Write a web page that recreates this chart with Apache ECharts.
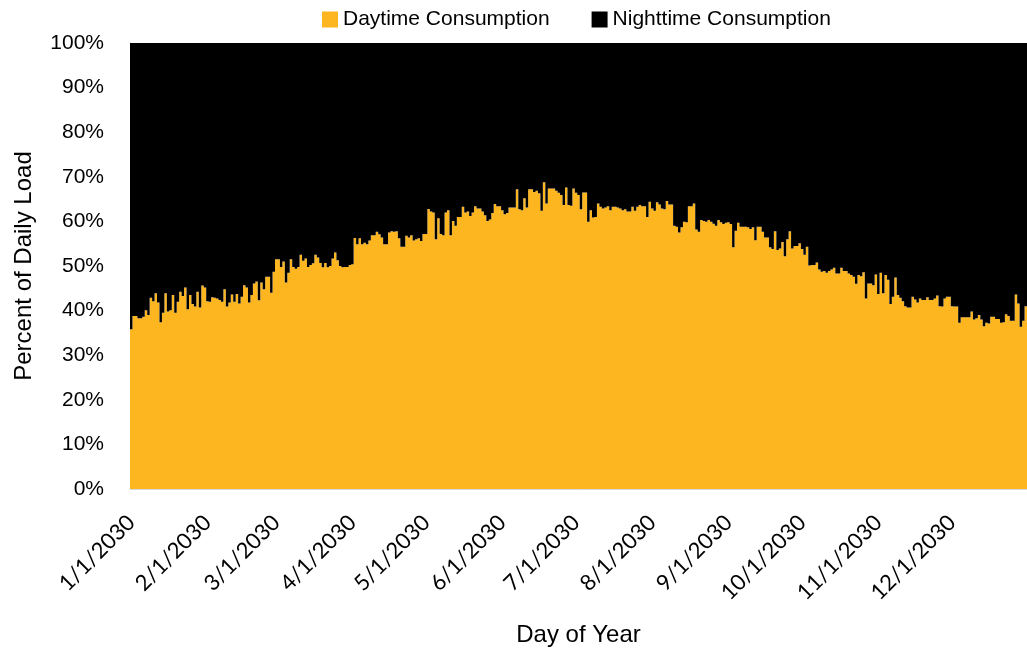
<!DOCTYPE html>
<html>
<head>
<meta charset="utf-8">
<script src="https://cdn.jsdelivr.net/npm/echarts@6/dist/echarts.min.js"></script>
<style>
  html, body { margin: 0; padding: 0; background: #ffffff; }
  #chart { width: 1027px; height: 654px; }
</style>
</head>
<body>
<div id="chart"></div>
<script>
// Daytime share of daily load (%) for each day of 2030, one array per month.
const jan = [35.8,38.8,38.8,38.3,38.3,38.6,40.1,39.0,42.9,42.1,43.9,41.8,37.4,39.5,43.9,39.8,40.1,43.5,39.5,42.0,44.2,43.3,45.2,40.3,43.5,41.5,40.9,44.2,40.7,45.6,45.2];
const feb = [42.1,42.0,43.0,42.9,42.7,42.4,42.0,44.8,40.9,41.8,43.6,42.0,43.7,41.6,43.1,45.7,45.2,41.8,43.5,46.1,46.5,42.3,46.3,44.8,47.6,47.6,44.0,48.7];
const mar = [51.5,51.5,49.8,51.0,46.3,48.5,51.5,49.8,49.4,49.8,52.5,51.2,51.7,49.8,50.2,50.6,52.5,51.9,50.7,49.7,50.7,49.7,50.0,51.7,53.0,51.3,50.0,49.7,49.8,49.8,50.2];
const apr = [50.4,56.3,54.9,56.2,54.9,55.2,54.9,55.7,56.9,56.9,57.7,57.1,56.4,54.9,54.9,57.5,57.8,57.7,57.8,56.2,54.3,54.3,56.8,56.4,56.9,55.7,56.0,56.2,55.6,57.2];
const may = [57.2,62.8,62.2,62.0,56.0,60.7,57.2,56.9,62.0,62.5,56.9,60.1,59.0,61.0,61.0,63.3,62.0,62.2,61.2,62.0,63.4,62.9,62.9,62.2,61.4,60.1,60.4,61.9,63.9,63.4,63.4];
const jun = [62.5,61.6,61.9,63.1,63.1,63.1,67.2,62.7,62.5,65.2,63.1,67.2,67.2,66.6,66.9,66.3,62.4,68.8,64.0,67.4,67.4,67.4,66.9,66.4,65.9,63.7,67.6,63.7,63.5,67.4];
const jul = [66.4,65.9,62.7,66.5,66.5,59.9,62.5,60.9,61.0,64.0,63.3,62.9,63.1,63.4,62.5,63.3,63.3,63.1,62.9,62.5,62.7,62.2,62.2,63.3,62.4,63.3,63.7,63.4,63.4,61.0,64.4];
const aug = [62.9,62.4,64.3,63.8,62.9,62.7,64.6,63.8,63.8,59.0,58.8,57.5,58.7,59.9,59.8,63.4,63.4,64.0,58.2,57.7,60.3,60.1,59.9,60.3,59.9,59.5,59.0,60.3,59.8,59.4,59.7];
const sep = [59.8,59.4,54.2,57.9,59.7,58.8,58.8,58.8,58.7,58.3,58.7,55.8,58.8,58.8,57.7,56.4,56.4,54.2,53.8,57.8,53.6,53.9,55.4,52.2,56.0,57.8,53.9,54.5,54.5,55.1];
const oct = [53.8,52.5,54.3,50.1,50.2,50.2,50.8,49.2,48.7,48.9,48.5,48.9,49.2,49.6,48.3,48.3,49.6,48.9,48.9,48.3,48.0,47.6,46.0,48.0,47.7,48.6,42.7,46.1,46.1,45.7,48.1];
const nov = [43.7,48.5,43.9,48.0,46.9,41.5,43.1,47.4,43.5,42.9,42.1,41.0,40.7,40.7,43.1,42.5,41.8,42.7,42.4,42.4,43.0,42.4,42.4,42.7,43.4,41.0,40.9,42.7,43.1,43.1];
const dec = [41.0,40.9,40.9,37.3,38.5,38.5,38.5,38.5,39.8,38.0,38.3,39.0,38.0,36.5,37.3,37.1,38.6,38.6,38.1,38.1,37.3,37.4,39.2,38.8,37.7,37.7,43.6,41.6,36.4,37.7,41.0];

const months = [jan, feb, mar, apr, may, jun, jul, aug, sep, oct, nov, dec];
const year = 2030;

// Category labels m/d/2030 for every day, daytime share, and the nighttime remainder.
const days = [];
const daytime = [];
months.forEach((vals, m) => {
  vals.forEach((v, d) => {
    days.push((m + 1) + '/' + (d + 1) + '/' + year);
    daytime.push(v);
  });
});
const nighttime = daytime.map(v => Math.round((100 - v) * 10) / 10);

const YELLOW = '#FDB520';
const BLACK = '#000000';
const FONT = 'Liberation Sans, Arial, sans-serif';

const chart = echarts.init(document.getElementById('chart'), null, { renderer: 'canvas' });
chart.setOption({
  animation: false,
  backgroundColor: '#ffffff',
  textStyle: { fontFamily: FONT, color: '#000' },
  legend: {
    data: ['Daytime Consumption', 'Nighttime Consumption'],
    left: 317,
    top: 4,
    icon: 'rect',
    itemWidth: 16,
    itemHeight: 16,
    itemGap: 42,
    textStyle: { fontFamily: FONT, fontSize: 21, color: '#000' }
  },
  grid: { left: 130, right: 0, top: 43, bottom: 165, containLabel: false },
  xAxis: {
    type: 'category',
    data: days,
    boundaryGap: true,
    name: 'Day of Year',
    nameLocation: 'middle',
    nameGap: 134,
    nameTextStyle: { fontFamily: FONT, fontSize: 24, color: '#000' },
    axisLine: { show: true, lineStyle: { color: '#d9d9d9', width: 1 } },
    axisTick: { show: false },
    axisLabel: {
      interval: (idx, val) => val.split('/')[1] === '1',
      rotate: 45,
      margin: 30,
      fontFamily: 'Lato, sans-serif',
      fontSize: 22,
      color: '#000'
    },
    splitLine: { show: false }
  },
  yAxis: {
    type: 'value',
    min: 0,
    max: 100,
    interval: 10,
    name: 'Percent of Daily Load',
    nameLocation: 'middle',
    nameGap: 94,
    nameTextStyle: { fontFamily: FONT, fontSize: 24, color: '#000' },
    axisLine: { show: true, lineStyle: { color: '#d9d9d9', width: 1 } },
    axisTick: { show: false },
    axisLabel: { formatter: '{value}%', margin: 26, fontFamily: FONT, fontSize: 21, color: '#000' },
    splitLine: { show: false }
  },
  series: [
    {
      name: 'Daytime Consumption',
      type: 'bar',
      stack: 'load',
      data: daytime,
      barCategoryGap: '0%',
      large: true,
      largeThreshold: 100,
      itemStyle: { color: YELLOW }
    },
    {
      name: 'Nighttime Consumption',
      type: 'bar',
      stack: 'load',
      data: nighttime,
      barCategoryGap: '0%',
      large: true,
      largeThreshold: 100,
      itemStyle: { color: BLACK }
    }
  ]
});
</script>
</body>
</html>
